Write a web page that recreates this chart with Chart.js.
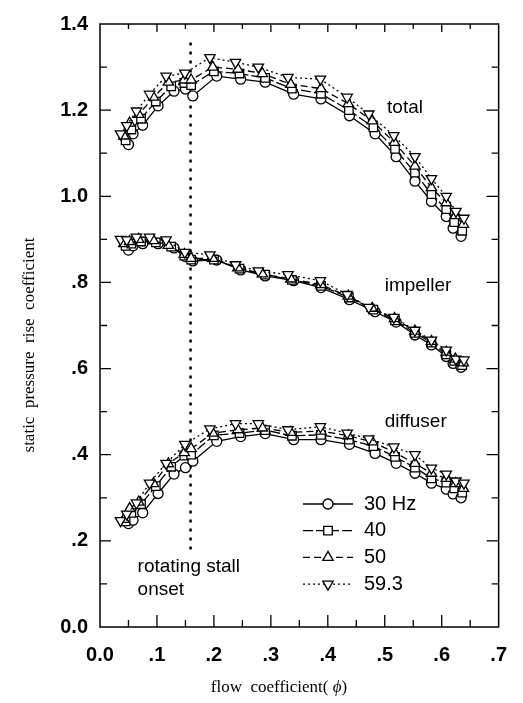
<!DOCTYPE html>
<html>
<head>
<meta charset="utf-8">
<script src="https://cdn.jsdelivr.net/npm/chart.js@4/dist/chart.umd.min.js"></script>
<style>
  body { margin: 0; background: #fff; }
</style>
</head>
<body>
<canvas id="pressureChart" width="523" height="703"></canvas>
<script>
// flow coefficient (phi) of each measured point, per rotation speed
const phi30 = [0.050, 0.058, 0.075, 0.102, 0.130, 0.150, 0.163, 0.205, 0.247, 0.290, 0.340, 0.388, 0.438, 0.483, 0.520, 0.553, 0.582, 0.608, 0.620, 0.634];
const phi40 = [0.045, 0.055, 0.072, 0.098, 0.125, 0.148, 0.160, 0.200, 0.245, 0.290, 0.337, 0.388, 0.437, 0.480, 0.518, 0.553, 0.582, 0.608, 0.622, 0.636];
const phi50 = [0.042, 0.052, 0.068, 0.094, 0.120, 0.148, 0.160, 0.198, 0.242, 0.285, 0.335, 0.388, 0.436, 0.478, 0.517, 0.553, 0.582, 0.608, 0.624, 0.638];
const phi59 = [0.036, 0.047, 0.064, 0.087, 0.116, 0.149, 0.193, 0.238, 0.278, 0.330, 0.387, 0.434, 0.472, 0.516, 0.553, 0.582, 0.608, 0.625, 0.639];

// total static pressure rise
const total30 = [1.120, 1.145, 1.165, 1.210, 1.244, 1.249, 1.233, 1.279, 1.272, 1.265, 1.237, 1.226, 1.187, 1.145, 1.092, 1.035, 0.988, 0.953, 0.926, 0.907];
const total40 = [1.130, 1.155, 1.180, 1.220, 1.255, 1.263, 1.258, 1.290, 1.285, 1.275, 1.250, 1.238, 1.200, 1.160, 1.110, 1.055, 1.005, 0.970, 0.940, 0.920];
const total50 = [1.140, 1.170, 1.190, 1.230, 1.265, 1.270, 1.270, 1.300, 1.295, 1.285, 1.260, 1.250, 1.215, 1.175, 1.125, 1.070, 1.020, 0.985, 0.955, 0.935];
const total59 = [1.145, 1.164, 1.198, 1.237, 1.279, 1.286, 1.322, 1.311, 1.300, 1.276, 1.272, 1.230, 1.191, 1.141, 1.092, 1.041, 1.000, 0.965, 0.949];

// impeller part
const impeller30 = [0.875, 0.885, 0.890, 0.890, 0.880, 0.860, 0.850, 0.852, 0.829, 0.815, 0.804, 0.788, 0.760, 0.732, 0.708, 0.678, 0.655, 0.628, 0.612, 0.603];
const impeller40 = [0.885, 0.890, 0.895, 0.893, 0.883, 0.862, 0.853, 0.853, 0.832, 0.818, 0.806, 0.792, 0.765, 0.737, 0.712, 0.683, 0.660, 0.633, 0.618, 0.608];
const impeller50 = [0.890, 0.895, 0.900, 0.897, 0.886, 0.865, 0.856, 0.856, 0.834, 0.820, 0.808, 0.795, 0.768, 0.740, 0.716, 0.687, 0.663, 0.638, 0.622, 0.613];
const impeller59 = [0.900, 0.899, 0.905, 0.905, 0.899, 0.870, 0.864, 0.841, 0.827, 0.818, 0.804, 0.772, 0.742, 0.719, 0.689, 0.666, 0.643, 0.622, 0.620];

// diffuser part
const diffuser30 = [0.240, 0.248, 0.265, 0.310, 0.355, 0.370, 0.385, 0.431, 0.442, 0.449, 0.435, 0.435, 0.424, 0.403, 0.380, 0.357, 0.334, 0.320, 0.309, 0.300];
const diffuser40 = [0.245, 0.265, 0.285, 0.327, 0.372, 0.398, 0.400, 0.445, 0.450, 0.457, 0.444, 0.446, 0.435, 0.420, 0.395, 0.370, 0.345, 0.335, 0.322, 0.312];
const diffuser50 = [0.250, 0.275, 0.290, 0.333, 0.379, 0.405, 0.414, 0.450, 0.458, 0.462, 0.452, 0.455, 0.444, 0.430, 0.405, 0.380, 0.357, 0.345, 0.333, 0.322];
const diffuser59 = [0.247, 0.262, 0.288, 0.334, 0.380, 0.424, 0.460, 0.472, 0.472, 0.458, 0.465, 0.450, 0.437, 0.418, 0.400, 0.369, 0.355, 0.339, 0.334];

// rotating stall onset marker
const stallPhi = [0.159, 0.159];
const stallLevel = [0.18, 1.357];

const speedLabels = ['30 Hz', '40', '50', '59.3'];
const xTickLabels = ['0.0', '.1', '.2', '.3', '.4', '.5', '.6', '.7'];
const yTickLabels = ['0.0', '.2', '.4', '.6', '.8', '1.0', '1.2', '1.4'];

const speedStyles = [
  { pointStyle: 'circle', rotation: 0, radius: 5, dash: [] },
  { pointStyle: 'rect', rotation: 0, radius: 6, dash: [10, 3] },
  { pointStyle: 'triangle', rotation: 0, radius: 6, dash: [7, 4] },
  { pointStyle: 'triangle', rotation: 180, radius: 6, dash: [2, 3] },
];

const phiBySpeed = [phi30, phi40, phi50, phi59];
const parts = [
  [total30, total40, total50, total59],
  [impeller30, impeller40, impeller50, impeller59],
  [diffuser30, diffuser40, diffuser50, diffuser59],
];

const pairs = (xs, ys) => xs.map((x, i) => ({ x, y: ys[i] }));

const datasets = [];
parts.forEach(part => {
  part.forEach((vals, s) => {
    const st = speedStyles[s];
    datasets.push({
      label: speedLabels[s],
      data: pairs(phiBySpeed[s], vals),
      borderColor: '#000',
      borderWidth: 1.3,
      borderDash: st.dash,
      pointStyle: st.pointStyle,
      rotation: st.rotation,
      pointRadius: st.radius,
      pointBackgroundColor: '#fff',
      pointBorderColor: '#000',
      pointBorderWidth: 1.3,
      order: 3 - s,
    });
  });
});
datasets.push({
  label: 'stall',
  data: pairs(stallPhi, stallLevel),
  borderColor: '#000',
  borderWidth: 2.5,
  borderDash: [3, 6],
  pointRadius: 0,
  order: 10,
});

const sansFont = '"Liberation Sans", Arial, sans-serif';
const serifFont = '"Liberation Serif", "Times New Roman", serif';

// frame with inward ticks, legend, labels and axis titles
const decorations = {
  id: 'decorations',
  afterDraw(chart) {
    const { ctx, chartArea: a, scales: { x, y } } = chart;
    ctx.save();
    ctx.strokeStyle = '#000';
    ctx.lineWidth = 1.5;
    ctx.setLineDash([]);
    ctx.strokeRect(a.left, a.top, a.right - a.left, a.bottom - a.top);

    ctx.lineWidth = 1.3;
    for (let i = 1; i < 14; i++) {
      const px = x.getPixelForValue(i * 0.05);
      const major = i % 2 === 0;
      ctx.beginPath();
      ctx.moveTo(px, a.bottom); ctx.lineTo(px, a.bottom - (major ? 12 : 7));
      ctx.moveTo(px, a.top); ctx.lineTo(px, a.top + (major ? 8 : 5));
      ctx.stroke();
    }
    for (let i = 1; i < 14; i++) {
      const py = y.getPixelForValue(i * 0.1);
      const major = i % 2 === 0;
      ctx.beginPath();
      ctx.moveTo(a.left, py); ctx.lineTo(a.left + (major ? 11 : 7), py);
      ctx.moveTo(a.right, py); ctx.lineTo(a.right - (major ? 12 : 7), py);
      ctx.stroke();
    }

    // legend
    ctx.font = '20px ' + sansFont;
    ctx.fillStyle = '#000';
    ctx.textBaseline = 'middle';
    speedLabels.forEach((label, s) => {
      const st = speedStyles[s];
      const ly = 504 + s * 26.7;
      ctx.beginPath();
      ctx.setLineDash(st.dash);
      ctx.lineWidth = 1.3;
      ctx.moveTo(303, ly); ctx.lineTo(353, ly);
      ctx.stroke();
      ctx.setLineDash([]);
      ctx.fillStyle = '#fff';
      Chart.helpers.drawPoint(ctx, {
        pointStyle: st.pointStyle, rotation: st.rotation, radius: st.radius, borderWidth: 1.3
      }, 328, ly);
      ctx.fillStyle = '#000';
      ctx.fillText(label, 364, ly);
    });

    // curve labels
    ctx.font = '19px ' + sansFont;
    ctx.textAlign = 'left';
    ctx.fillText('total', x.getPixelForValue(0.504), y.getPixelForValue(1.205));
    ctx.fillText('impeller', x.getPixelForValue(0.5), y.getPixelForValue(0.793));
    ctx.fillText('diffuser', x.getPixelForValue(0.5), y.getPixelForValue(0.477));
    ctx.fillText('rotating stall', x.getPixelForValue(0.066), y.getPixelForValue(0.14));
    ctx.fillText('onset', x.getPixelForValue(0.066), y.getPixelForValue(0.087));

    // x axis title with italic phi
    const part1 = 'flow  coefficient( ';
    const part3 = ')';
    ctx.font = '17px ' + serifFont;
    const w1 = ctx.measureText(part1).width;
    const w3 = ctx.measureText(part3).width;
    ctx.font = 'italic 17px ' + serifFont;
    const w2 = ctx.measureText('\u03D5').width;
    let tx = 279 - (w1 + w2 + w3) / 2;
    const ty = 688;
    ctx.font = '17px ' + serifFont;
    ctx.fillText(part1, tx, ty);
    ctx.font = 'italic 17px ' + serifFont;
    ctx.fillText('\u03D5', tx + w1, ty);
    ctx.font = '17px ' + serifFont;
    ctx.fillText(part3, tx + w1 + w2, ty);

    // y axis title
    ctx.translate(30, 345);
    ctx.rotate(-Math.PI / 2);
    ctx.textAlign = 'center';
    ctx.font = '17px ' + serifFont;
    ctx.fillText('static  pressure  rise  coefficient', 0, 0);
    ctx.restore();
  }
};

new Chart(document.getElementById('pressureChart'), {
  type: 'line',
  data: { datasets },
  options: {
    responsive: false,
    animation: false,
    layout: { padding: { top: 19, right: 20, left: 0, bottom: 0 } },
    plugins: { legend: { display: false }, tooltip: { enabled: false } },
    scales: {
      x: {
        type: 'linear',
        min: 0, max: 0.7,
        grid: { display: false, drawTicks: false },
        border: { display: false },
        afterFit: s => { s.height = 76; },
        afterBuildTicks: s => { s.ticks = xTickLabels.map((_, i) => ({ value: i / 10 })); },
        ticks: {
          padding: 16,
          color: '#000',
          font: { family: sansFont, size: 20, weight: 'bold' },
          callback: (v, i) => xTickLabels[i],
        },
      },
      y: {
        type: 'linear',
        min: 0, max: 1.4,
        grid: { display: false, drawTicks: false },
        border: { display: false },
        afterFit: s => { s.width = 100; },
        afterBuildTicks: s => { s.ticks = yTickLabels.map((_, i) => ({ value: i * 0.2 })); },
        ticks: {
          padding: 12,
          color: '#000',
          font: { family: sansFont, size: 20, weight: 'bold' },
          callback: (v, i) => yTickLabels[i],
        },
      },
    },
  },
  plugins: [decorations],
});
</script>
</body>
</html>
